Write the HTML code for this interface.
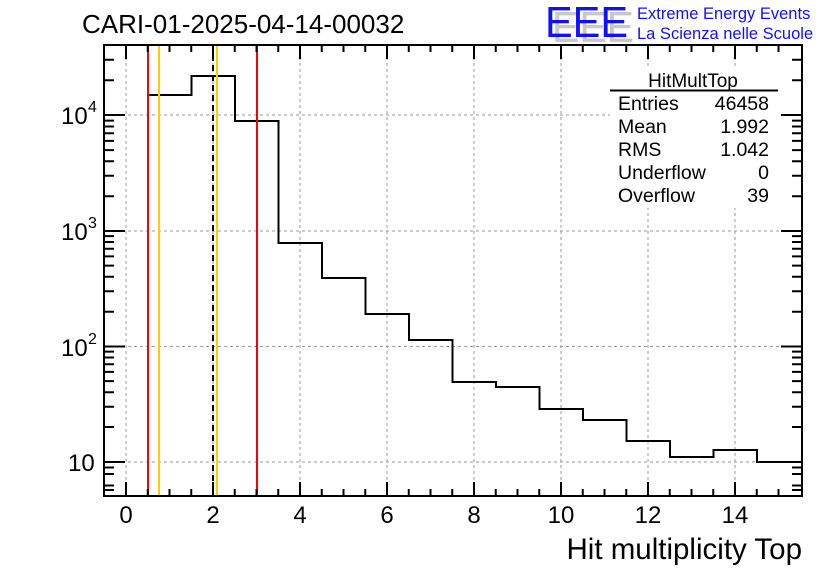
<!DOCTYPE html>
<html><head><meta charset="utf-8"><style>
html,body{margin:0;padding:0;background:#fff;}
svg{display:block;font-family:"Liberation Sans",sans-serif;}
</style></head><body>
<svg width="836" height="572" viewBox="0 0 836 572" xmlns="http://www.w3.org/2000/svg">
<rect width="836" height="572" fill="#fff"/>
<g stroke="#999" stroke-width="1" stroke-dasharray="3,3">
<line x1="126" y1="45" x2="126" y2="496"/>
<line x1="213" y1="45" x2="213" y2="496"/>
<line x1="300" y1="45" x2="300" y2="496"/>
<line x1="387" y1="45" x2="387" y2="496"/>
<line x1="474" y1="45" x2="474" y2="496"/>
<line x1="561" y1="45" x2="561" y2="496"/>
<line x1="648" y1="45" x2="648" y2="496"/>
<line x1="735" y1="45" x2="735" y2="496"/>
<line x1="104" y1="115" x2="802" y2="115"/>
<line x1="104" y1="231" x2="802" y2="231"/>
<line x1="104" y1="346.5" x2="802" y2="346.5"/>
<line x1="104" y1="462" x2="802" y2="462"/>
</g>
<rect x="610" y="68" width="190" height="140" fill="#fff"/>
<polyline fill="none" stroke="#000" stroke-width="2" points="148,496 148,95 191.5,95 191.5,76 235,76 235,121 278.5,121 278.5,243 322,243 322,278 365.5,278 365.5,314 409,314 409,340 452.5,340 452.5,382 496,382 496,387 539.5,387 539.5,409 583,409 583,420 626.5,420 626.5,441 670,441 670,457 713.5,457 713.5,450 757,450 757,462 801,462"/>
<line x1="148" y1="45" x2="148" y2="496" stroke="#f00" stroke-width="2"/>
<line x1="257" y1="45" x2="257" y2="496" stroke="#f00" stroke-width="2"/>
<line x1="159" y1="45" x2="159" y2="496" stroke="#fc0" stroke-width="2"/>
<line x1="217" y1="45" x2="217" y2="496" stroke="#fc0" stroke-width="2"/>
<line x1="213" y1="45" x2="213" y2="496" stroke="#000" stroke-width="2" stroke-dasharray="6,4"/>
<rect x="104" y="45" width="698" height="451" fill="none" stroke="#000" stroke-width="2"/>
<g stroke="#000" stroke-width="2">
<line x1="126" y1="496" x2="126" y2="482"/><line x1="213" y1="496" x2="213" y2="482"/><line x1="300" y1="496" x2="300" y2="482"/><line x1="387" y1="496" x2="387" y2="482"/><line x1="474" y1="496" x2="474" y2="482"/><line x1="561" y1="496" x2="561" y2="482"/><line x1="648" y1="496" x2="648" y2="482"/><line x1="735" y1="496" x2="735" y2="482"/>
<line x1="126" y1="45" x2="126" y2="59"/><line x1="213" y1="45" x2="213" y2="59"/><line x1="300" y1="45" x2="300" y2="59"/><line x1="387" y1="45" x2="387" y2="59"/><line x1="474" y1="45" x2="474" y2="59"/><line x1="561" y1="45" x2="561" y2="59"/><line x1="648" y1="45" x2="648" y2="59"/><line x1="735" y1="45" x2="735" y2="59"/>
</g>
<g stroke="#000" stroke-width="2">
<path d="M147.75 496v-7M169.5 496v-7M191.25 496v-7M234.75 496v-7M256.5 496v-7M278.25 496v-7M321.75 496v-7M343.5 496v-7M365.25 496v-7M408.75 496v-7M430.5 496v-7M452.25 496v-7M495.75 496v-7M517.5 496v-7M539.25 496v-7M582.75 496v-7M604.5 496v-7M626.25 496v-7M669.75 496v-7M691.5 496v-7M713.25 496v-7M756.75 496v-7M778.5 496v-7"/>
<path d="M147.75 45v7M169.5 45v7M191.25 45v7M234.75 45v7M256.5 45v7M278.25 45v7M321.75 45v7M343.5 45v7M365.25 45v7M408.75 45v7M430.5 45v7M452.25 45v7M495.75 45v7M517.5 45v7M539.25 45v7M582.75 45v7M604.5 45v7M626.25 45v7M669.75 45v7M691.5 45v7M713.25 45v7M756.75 45v7M778.5 45v7"/>
</g>
<g stroke="#000" stroke-width="2">
<path d="M104 115h21M104 231h21M104 346.5h21M104 462h21M802 115h-21M802 231h-21M802 346.5h-21M802 462h-21"/>
<path d="
M104 485.5h10M104 474h10M104 467.5h10M104 490h10
M104 427h10M104 406.7h10M104 392.3h10M104 381.1h10M104 371.9h10M104 364.2h10M104 357.5h10M104 351.6h10
M104 311.7h10M104 291.3h10M104 276.8h10M104 265.6h10M104 256.4h10M104 248.7h10M104 242h10M104 236.1h10
M104 196.2h10M104 175.8h10M104 161.3h10M104 150.1h10M104 140.9h10M104 133.2h10M104 126.5h10M104 120.6h10
M104 80.2h10M104 59.8h10"/>
<path d="
M802 485.5h-10M802 474h-10M802 467.5h-10M802 490h-10
M802 427h-10M802 406.7h-10M802 392.3h-10M802 381.1h-10M802 371.9h-10M802 364.2h-10M802 357.5h-10M802 351.6h-10
M802 311.7h-10M802 291.3h-10M802 276.8h-10M802 265.6h-10M802 256.4h-10M802 248.7h-10M802 242h-10M802 236.1h-10
M802 196.2h-10M802 175.8h-10M802 161.3h-10M802 150.1h-10M802 140.9h-10M802 133.2h-10M802 126.5h-10M802 120.6h-10
M802 80.2h-10M802 59.8h-10"/>
</g>
<g font-size="24" fill="#000">
<text x="61" y="124">10</text><text x="88" y="112" font-size="16">4</text>
<text x="61" y="240">10</text><text x="88" y="228" font-size="16">3</text>
<text x="61" y="356">10</text><text x="88" y="344" font-size="16">2</text>
<text x="68" y="471">10</text>
</g>
<g font-size="24" fill="#000" text-anchor="middle">
<text x="126" y="523">0</text><text x="213" y="523">2</text><text x="300" y="523">4</text><text x="387" y="523">6</text><text x="474" y="523">8</text><text x="561" y="523">10</text><text x="648" y="523">12</text><text x="735" y="523">14</text>
</g>
<text x="802" y="559" font-size="29.5" text-anchor="end">Hit multiplicity Top</text>
<text x="82" y="33" font-size="26">CARI-01-2025-04-14-00032</text>
<text x="693" y="87" font-size="19" text-anchor="middle">HitMultTop</text>
<line x1="610" y1="90.5" x2="778" y2="90.5" stroke="#000" stroke-width="2"/>
<g font-size="19.5" fill="#000">
<text x="618" y="110">Entries</text><text x="769" y="110" text-anchor="end">46458</text>
<text x="618" y="133">Mean</text><text x="769" y="133" text-anchor="end">1.992</text>
<text x="618" y="156">RMS</text><text x="769" y="156" text-anchor="end">1.042</text>
<text x="618" y="179">Underflow</text><text x="769" y="179" text-anchor="end">0</text>
<text x="618" y="202">Overflow</text><text x="769" y="202" text-anchor="end">39</text>
</g>
<text x="552" y="42" font-size="44" fill="#c8c8c8" textLength="82" lengthAdjust="spacingAndGlyphs">EEE</text>
<text x="545" y="37" font-size="44" fill="#1010ff" textLength="83" lengthAdjust="spacingAndGlyphs">EEE</text>
<text x="637" y="19" font-size="16.5" fill="#1010ff">Extreme Energy Events</text>
<text x="637" y="39" font-size="16.5" fill="#1010ff">La Scienza nelle Scuole</text>
</svg>
</body></html>
